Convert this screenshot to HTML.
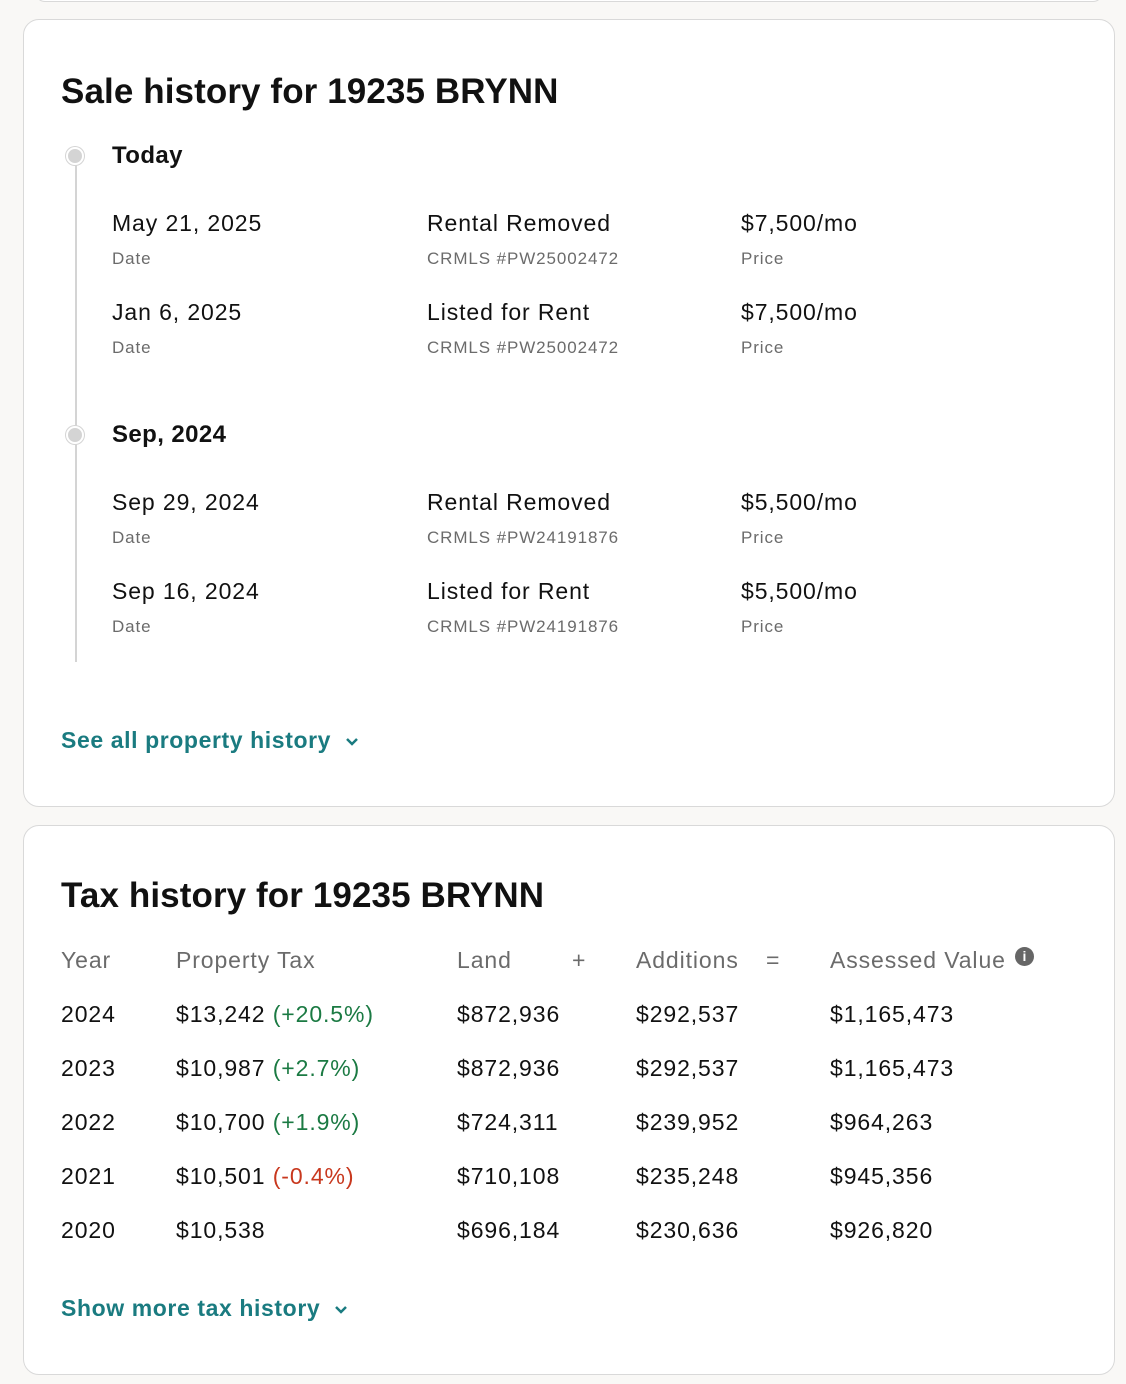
<!DOCTYPE html>
<html><head><meta charset="utf-8"><style>
body{margin:0;width:1126px;height:1384px;background:#f9f8f6;font-family:"Liberation Sans",sans-serif;color:#111;position:relative;overflow:hidden}
.card{position:absolute;left:23px;width:1090px;background:#fff;border:1px solid #d9d9d9;border-radius:16px}
.t{position:absolute;white-space:nowrap}
h2{position:absolute;margin:0;font-size:35px;font-weight:bold;letter-spacing:0.1px}
.v{font-size:23px;color:#111;letter-spacing:0.9px}
.s{font-size:17px;color:#6b6b6b;letter-spacing:0.9px}
.g{font-size:23px;color:#6b6b6b;letter-spacing:0.9px}
.lnk{font-size:23px;font-weight:bold;color:#1a7b80;letter-spacing:0.6px}
.dot{position:absolute;left:66px;width:18px;height:18px;border-radius:50%;background:#d4d4d4;border:2px solid #fff;box-shadow:0 0 0 1px #d4d4d4;box-sizing:border-box}
</style></head><body>
<div style="position:absolute;left:35px;top:-20px;width:1066px;height:20px;border:1px solid #d9d9d9;border-radius:0 0 10px 10px;background:#fff"></div>
<div class="card" style="top:19px;height:786px"></div>
<div class="card" style="top:825px;height:548px"></div>

<h2 style="left:61px;top:72px">Sale history for 19235 BRYNN</h2>
<div style="position:absolute;left:75px;top:160px;width:2px;height:502px;background:#d4d4d4"></div>
<div class="dot" style="top:147px"></div>
<div class="dot" style="top:426px"></div>
<div class="t" style="left:112px;top:142px;font-size:24px;font-weight:bold;letter-spacing:0.4px">Today</div>
<div class="t" style="left:112px;top:421px;font-size:24px;font-weight:bold;letter-spacing:0.4px">Sep, 2024</div>

<div class="t v" style="left:112px;top:210px">May 21, 2025</div><div class="t s" style="left:112px;top:249px">Date</div>
<div class="t v" style="left:427px;top:210px">Rental Removed</div><div class="t s" style="left:427px;top:249px">CRMLS #PW25002472</div>
<div class="t v" style="left:741px;top:210px">$7,500/mo</div><div class="t s" style="left:741px;top:249px">Price</div>

<div class="t v" style="left:112px;top:299px">Jan 6, 2025</div><div class="t s" style="left:112px;top:338px">Date</div>
<div class="t v" style="left:427px;top:299px">Listed for Rent</div><div class="t s" style="left:427px;top:338px">CRMLS #PW25002472</div>
<div class="t v" style="left:741px;top:299px">$7,500/mo</div><div class="t s" style="left:741px;top:338px">Price</div>

<div class="t v" style="left:112px;top:489px">Sep 29, 2024</div><div class="t s" style="left:112px;top:528px">Date</div>
<div class="t v" style="left:427px;top:489px">Rental Removed</div><div class="t s" style="left:427px;top:528px">CRMLS #PW24191876</div>
<div class="t v" style="left:741px;top:489px">$5,500/mo</div><div class="t s" style="left:741px;top:528px">Price</div>

<div class="t v" style="left:112px;top:578px">Sep 16, 2024</div><div class="t s" style="left:112px;top:617px">Date</div>
<div class="t v" style="left:427px;top:578px">Listed for Rent</div><div class="t s" style="left:427px;top:617px">CRMLS #PW24191876</div>
<div class="t v" style="left:741px;top:578px">$5,500/mo</div><div class="t s" style="left:741px;top:617px">Price</div>

<div class="t lnk" style="left:61px;top:727px">See all property history <svg width="16" height="12" style="margin-left:6px" viewBox="0 0 16 12"><path d="M3 3l5 5 5-5" fill="none" stroke="#1a7b80" stroke-width="2.5"/></svg></div>

<h2 style="left:61px;top:876px">Tax history for 19235 BRYNN</h2>
<div class="t g" style="left:61px;top:947px">Year</div>
<div class="t g" style="left:176px;top:947px">Property Tax</div>
<div class="t g" style="left:457px;top:947px">Land</div>
<div class="t g" style="left:572px;top:947px">+</div>
<div class="t g" style="left:636px;top:947px">Additions</div>
<div class="t g" style="left:766px;top:947px">=</div>
<div class="t g" style="left:830px;top:947px">Assessed Value</div>
<div style="position:absolute;left:1015px;top:947px;width:19px;height:19px;border-radius:50%;background:#666;color:#fff;font-size:14px;font-weight:bold;text-align:center;line-height:19px">i</div>

<div class="t v" style="left:61px;top:1001px">2024</div><div class="t v" style="left:176px;top:1001px">$13,242 <span style="color:#1b7a43">(+20.5%)</span></div><div class="t v" style="left:457px;top:1001px">$872,936</div><div class="t v" style="left:636px;top:1001px">$292,537</div><div class="t v" style="left:830px;top:1001px">$1,165,473</div>
<div class="t v" style="left:61px;top:1055px">2023</div><div class="t v" style="left:176px;top:1055px">$10,987 <span style="color:#1b7a43">(+2.7%)</span></div><div class="t v" style="left:457px;top:1055px">$872,936</div><div class="t v" style="left:636px;top:1055px">$292,537</div><div class="t v" style="left:830px;top:1055px">$1,165,473</div>
<div class="t v" style="left:61px;top:1109px">2022</div><div class="t v" style="left:176px;top:1109px">$10,700 <span style="color:#1b7a43">(+1.9%)</span></div><div class="t v" style="left:457px;top:1109px">$724,311</div><div class="t v" style="left:636px;top:1109px">$239,952</div><div class="t v" style="left:830px;top:1109px">$964,263</div>
<div class="t v" style="left:61px;top:1163px">2021</div><div class="t v" style="left:176px;top:1163px">$10,501 <span style="color:#c8381e">(-0.4%)</span></div><div class="t v" style="left:457px;top:1163px">$710,108</div><div class="t v" style="left:636px;top:1163px">$235,248</div><div class="t v" style="left:830px;top:1163px">$945,356</div>
<div class="t v" style="left:61px;top:1217px">2020</div><div class="t v" style="left:176px;top:1217px">$10,538</div><div class="t v" style="left:457px;top:1217px">$696,184</div><div class="t v" style="left:636px;top:1217px">$230,636</div><div class="t v" style="left:830px;top:1217px">$926,820</div>

<div class="t lnk" style="left:61px;top:1295px">Show more tax history <svg width="16" height="12" style="margin-left:6px" viewBox="0 0 16 12"><path d="M3 3l5 5 5-5" fill="none" stroke="#1a7b80" stroke-width="2.5"/></svg></div>
</body></html>
